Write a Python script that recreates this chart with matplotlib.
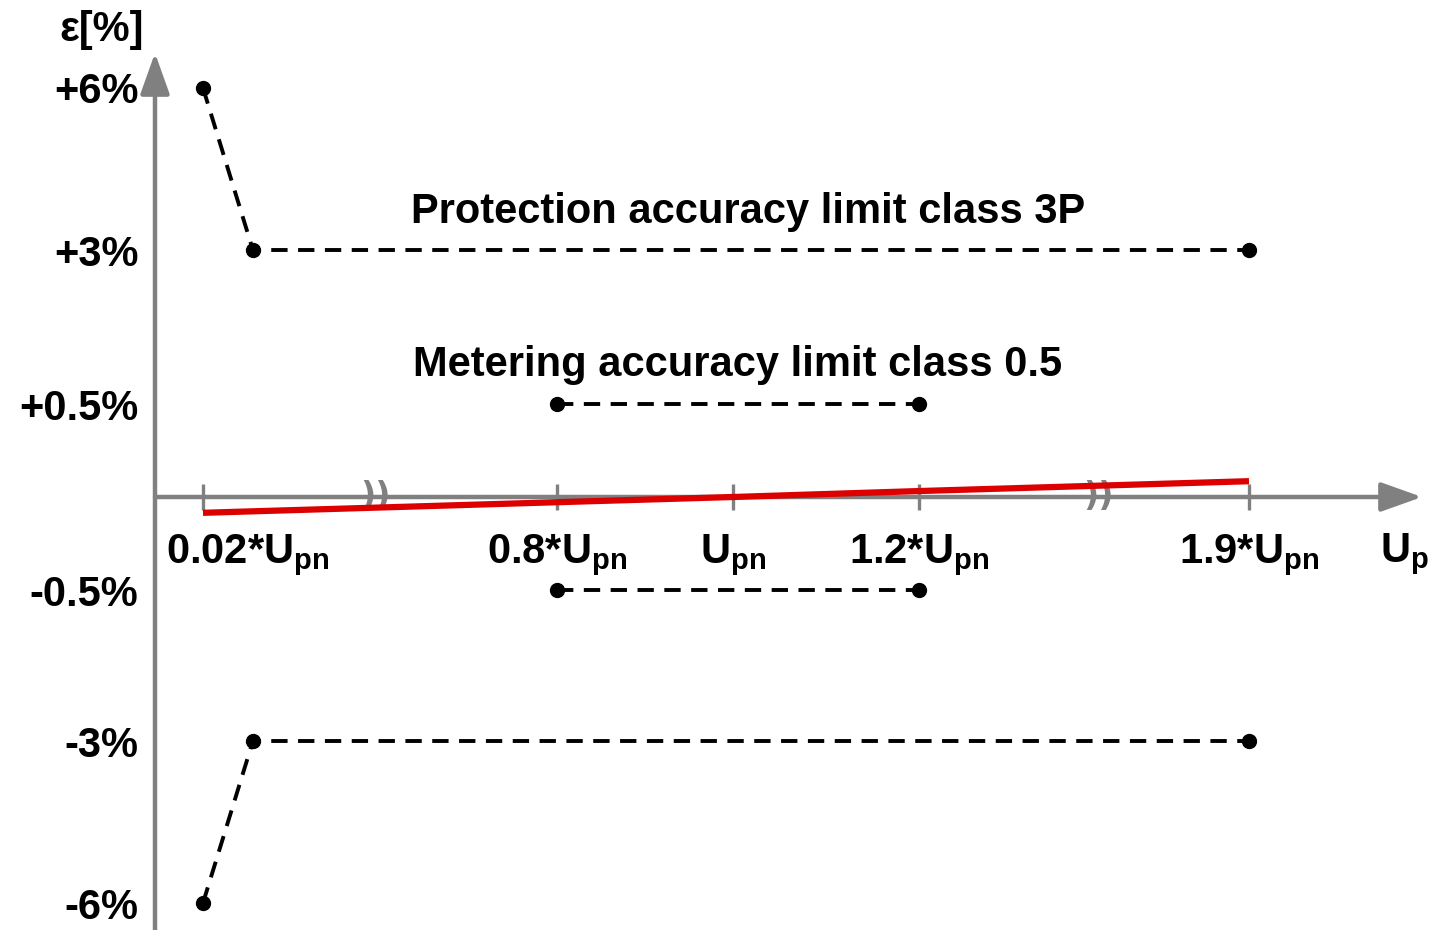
import matplotlib

matplotlib.use("Agg")
import matplotlib.pyplot as plt
import matplotlib.transforms as mtransforms
import numpy as np

plt.rcParams["font.family"] = ["Liberation Sans", "DejaVu Sans"]
plt.rcParams["font.weight"] = "bold"
plt.rcParams["mathtext.fontset"] = "custom"
plt.rcParams["mathtext.rm"] = "Liberation Sans:bold"
plt.rcParams["mathtext.it"] = "Liberation Sans:bold"
plt.rcParams["mathtext.bf"] = "Liberation Sans:bold"

# x: primary voltage as a multiple of Upn, y: ratio error in %
x_ticks = [0.02, 0.8, 1.0, 1.2, 1.9]
x_tick_labels = ["0.02*U$_{pn}$", "0.8*U$_{pn}$", "U$_{pn}$", "1.2*U$_{pn}$", "1.9*U$_{pn}$"]
y_ticks = [6, 3, 0.5, -0.5, -3, -6]
y_tick_labels = ["+6%", "+3%", "+0.5%", "-0.5%", "-3%", "-6%"]

# protection accuracy limit, class 3P
prot_x = [0.02, 0.13, 1.9]
prot_upper = [6, 3, 3]
prot_lower = [-6, -3, -3]

# metering accuracy limit, class 0.5
meter_x = [0.8, 1.2]
meter_upper = [0.5, 0.5]
meter_lower = [-0.5, -0.5]

# measured ratio error
meas_x = [0.02, 0.8, 1.0, 1.2, 1.9]
meas_err = [-0.085, -0.028, 0.0, 0.032, 0.085]

# axis breaks (between 0.02 and 0.8, between 1.2 and 1.9)
break_x = [0.40, 1.58]

# schematic (non-linear) axes: data value -> figure pixel
X_ANCHOR = [0.0, 0.02, 0.8, 1.0, 1.2, 1.9, 2.2]
X_PX = [155, 203, 557, 733, 919, 1249, 1422]
Y_ANCHOR = [-6, -3, -0.5, 0, 0.5, 3, 6]
Y_PX = [27, 189, 340, 433, 526, 680, 842]

W, H = 1435, 930
GRAY = "#808080"
FS = 30


def piecewise(v, src, dst):
    v = np.asarray(v, dtype=float)
    out = np.interp(v, src, dst)
    lo_slope = (dst[1] - dst[0]) / (src[1] - src[0])
    hi_slope = (dst[-1] - dst[-2]) / (src[-1] - src[-2])
    out = np.where(v < src[0], dst[0] + (v - src[0]) * lo_slope, out)
    out = np.where(v > src[-1], dst[-1] + (v - src[-1]) * hi_slope, out)
    return out


def fx(v):
    return piecewise(v, X_ANCHOR, X_PX)


def fx_inv(p):
    return piecewise(p, X_PX, X_ANCHOR)


def fy(v):
    return piecewise(v, Y_ANCHOR, Y_PX)


def fy_inv(p):
    return piecewise(p, Y_PX, Y_ANCHOR)


def at_px(px, py):
    # data position of a point given in image pixels (top-left origin)
    return float(fx_inv(px)), float(fy_inv(H - py))


fig = plt.figure(figsize=(W / 100, H / 100), dpi=100)
ax = fig.add_axes([0, 0, 1, 1])
ax.set_xscale("function", functions=(fx, fx_inv))
ax.set_yscale("function", functions=(fy, fy_inv))
ax.set_xlim(float(fx_inv(0)), float(fx_inv(W)))
ax.set_ylim(float(fy_inv(0)), float(fy_inv(H)))

for side in ["top", "right", "left", "bottom"]:
    ax.spines[side].set_visible(False)
ax.spines["left"].set_position(("data", 0))
ax.spines["bottom"].set_position(("data", 0))

# axes with arrow heads
arrow = dict(arrowstyle="-|>,head_length=1.4,head_width=0.5", mutation_scale=18,
             lw=3.2, color=GRAY, shrinkA=0, shrinkB=0)
ax.annotate("", xy=(X_ANCHOR[-1], 0), xytext=(0, 0), arrowprops=arrow, zorder=1)
ax.annotate("", xy=(0, float(fy_inv(H - 53))), xytext=(0, float(fy_inv(-5))),
            arrowprops=arrow, zorder=1)

ax.set_xticks(x_ticks, x_tick_labels)
ax.tick_params(axis="x", direction="inout", length=19, width=2.4, color=GRAY,
               labelsize=FS, pad=16)
ax.set_yticks(y_ticks, y_tick_labels)
ax.tick_params(axis="y", length=0, labelsize=FS, pad=12)
ax.xaxis.set_minor_locator(matplotlib.ticker.NullLocator())
ax.yaxis.set_minor_locator(matplotlib.ticker.NullLocator())

# first label sits to the right of the y axis
first = ax.get_xticklabels()[0]
first.set_transform(first.get_transform() + mtransforms.ScaledTranslation(0.45, 0, fig.dpi_scale_trans))

# axis break marks
for bx in break_x:
    ax.text(bx, 0, "))", color=GRAY, fontsize=24, fontweight="bold", ha="center",
            va="center", family="DejaVu Sans", zorder=2)

dash = dict(color="black", lw=2.8, linestyle=(0, (4.2, 2.7)), marker="o", markersize=10, zorder=3)
ax.plot(prot_x, prot_upper, **dash)
ax.plot(prot_x, prot_lower, **dash)
ax.plot(meter_x, meter_upper, **dash)
ax.plot(meter_x, meter_lower, **dash)

ax.plot(meas_x, meas_err, color="#dd0000", lw=4.5, solid_capstyle="butt", zorder=4)

ax.text(*at_px(748, 212), "Protection accuracy limit class 3P", fontsize=FS, ha="center", va="center")
ax.text(*at_px(738, 365), "Metering accuracy limit class 0.5", fontsize=FS, ha="center", va="center")

# axis titles
ax.text(*at_px(102, 30), "\u03b5[%]", fontsize=FS, ha="center", va="center")
ax.text(*at_px(1405, 531), "U$_{p}$", fontsize=FS, ha="center", va="top")

fig.savefig("out.png", dpi=100)
